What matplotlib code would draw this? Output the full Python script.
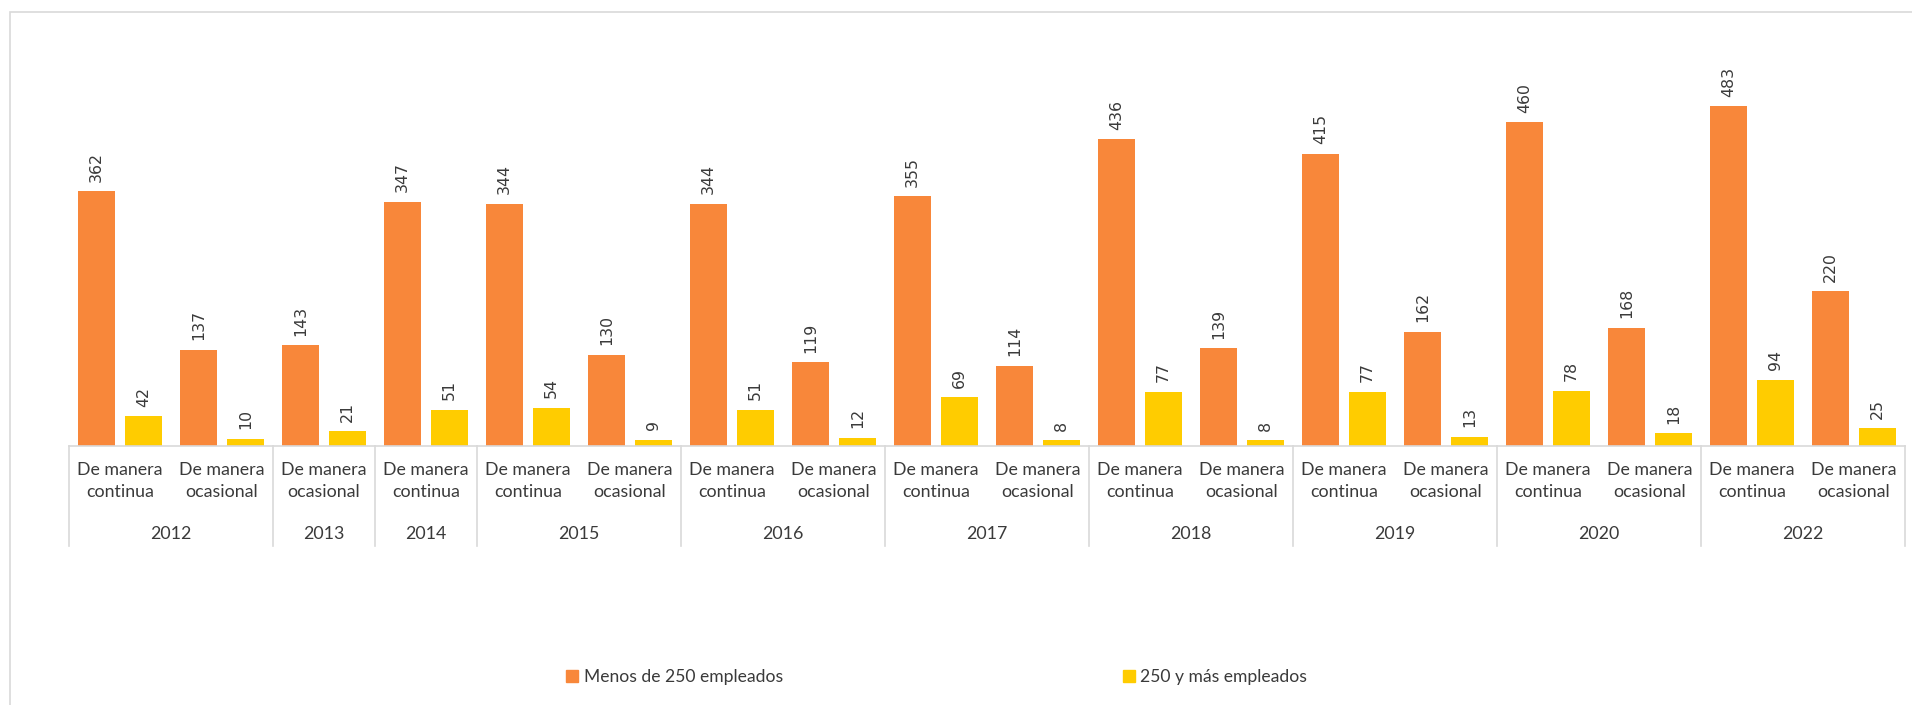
import matplotlib.pyplot as plt
from matplotlib.patches import Rectangle, Patch
import matplotlib.transforms as mtransforms

anios = ["2012", "2012", "2013", "2014", "2015", "2015", "2016", "2016", "2017", "2017",
         "2018", "2018", "2019", "2019", "2020", "2020", "2022", "2022"]
tipos = ["De manera\ncontinua", "De manera\nocasional", "De manera\nocasional", "De manera\ncontinua",
         "De manera\ncontinua", "De manera\nocasional", "De manera\ncontinua", "De manera\nocasional",
         "De manera\ncontinua", "De manera\nocasional", "De manera\ncontinua", "De manera\nocasional",
         "De manera\ncontinua", "De manera\nocasional", "De manera\ncontinua", "De manera\nocasional",
         "De manera\ncontinua", "De manera\nocasional"]
menos_250 = [362, 137, 143, 347, 344, 130, 344, 119, 355, 114, 436, 139, 415, 162, 460, 168, 483, 220]
mas_250 = [42, 10, 21, 51, 54, 9, 51, 12, 69, 8, 77, 8, 77, 13, 78, 18, 94, 25]
series = ["Menos de 250 empleados", "250 y más empleados"]

c_naranja = "#F8873A"
c_amarillo = "#FFCC00"
c_texto = "#3A3A3A"
c_linea = "#D9D9D9"

W, H = 1912, 705
fig = plt.figure(figsize=(W / 100, H / 100), dpi=100)
ax = fig.add_axes([69 / W, 1 - 446 / H, (1905 - 69) / W, (446 - 24) / H])

x = list(range(len(anios)))
bw = 0.37
off = 0.23
b1 = ax.bar([i - off for i in x], menos_250, width=bw, color=c_naranja)
b2 = ax.bar([i + off for i in x], mas_250, width=bw, color=c_amarillo)

for bars, vals in ((b1, menos_250), (b2, mas_250)):
    for r, v in zip(bars, vals):
        ax.annotate(str(v), (r.get_x() + r.get_width() / 2, v), xytext=(0, 7),
                    textcoords="offset points", rotation=90, ha="center", va="bottom",
                    fontsize=11.3, color=c_texto, family="DejaVu Sans")

ax.set_xlim(-0.5, len(anios) - 0.5)
ax.set_ylim(0, 600)
ax.set_xticks([])
ax.set_yticks([])
for s in ("top", "right", "left"):
    ax.spines[s].set_visible(False)
ax.spines["bottom"].set_color(c_linea)
ax.spines["bottom"].set_linewidth(1.2)

trans = mtransforms.blended_transform_factory(ax.transData, ax.transAxes)
ybajo = -(546 - 446) / (446 - 24)

# category labels
for i, t in enumerate(tipos):
    ax.text(i, -0.083, t, transform=trans, ha="center", va="center", fontsize=12.8,
            family="Lato", color=c_texto, linespacing=1.5)

# year groups
grupos = []
for i, a in enumerate(anios):
    if grupos and grupos[-1][0] == a:
        grupos[-1][2] = i
    else:
        grupos.append([a, i, i])
bordes = [-0.5]
for a, i0, i1 in grupos:
    ax.text((i0 + i1) / 2, -0.2085, a, transform=trans, ha="center", va="center",
            fontsize=12.8, family="Lato", color=c_texto)
    bordes.append(i1 + 0.5)
for b in bordes:
    ax.plot([b, b], [0, ybajo], transform=trans, color=c_linea, lw=1.2, clip_on=False)

# outer frame
fig.patches.append(Rectangle((10 / W, -0.05), 1.2, 1 - 12 / H + 0.05, transform=fig.transFigure,
                             fill=False, edgecolor=c_linea, lw=1.2))

# legend
for nombre, col, xpos in ((series[0], c_naranja, 566), (series[1], c_amarillo, 1123)):
    fig.legend(handles=[Patch(color=col, label=nombre)], loc="center left",
               bbox_to_anchor=(xpos / W, 1 - 677 / H), frameon=False, handlelength=0.7,
               handleheight=0.7, handletextpad=0.3, borderpad=0, borderaxespad=0,
               prop={"family": "Lato", "size": 12.6}, labelcolor=c_texto)

fig.savefig("out.png", dpi=100)
